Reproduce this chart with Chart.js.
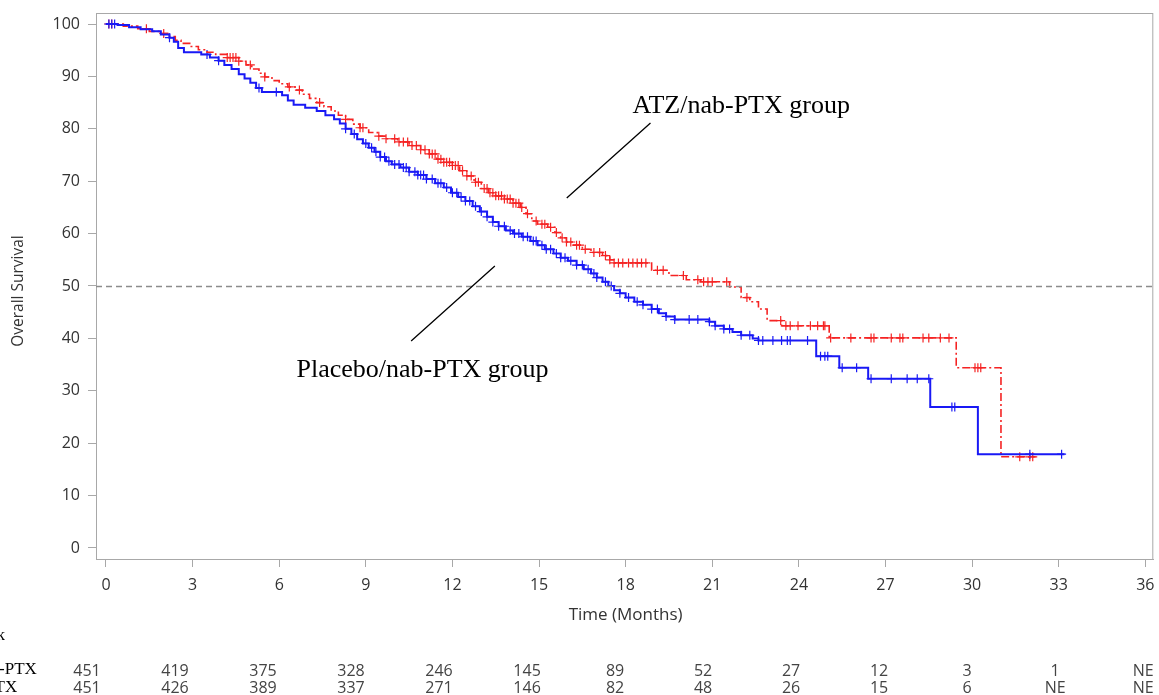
<!DOCTYPE html>
<html>
<head>
<meta charset="utf-8">
<script src="https://cdn.jsdelivr.net/npm/chart.js@4.4.1/dist/chart.umd.min.js"></script>
<style>
  html, body { margin: 0; padding: 0; background: #fff; }
  canvas { display: block; }
</style>
</head>
<body>
<canvas id="graficoKM" width="1159" height="695"></canvas>
<script>
// eixos
const xTicks = [0, 3, 6, 9, 12, 15, 18, 21, 24, 27, 30, 33, 36];
const yTicks = [0, 10, 20, 30, 40, 50, 60, 70, 80, 90, 100];

// Placebo/nab-PTX (azul) - tempos em meses e sobrevida (%)
const placeboTempo = [0, 0.4, 0.8, 1.2, 1.6, 1.9, 2.2, 2.35, 2.5, 2.7, 3.3, 3.6, 3.9, 4.1, 4.35, 4.6, 4.8, 5.0, 5.2, 5.4, 6.1, 6.3, 6.5, 6.9, 7.3, 7.6, 7.9, 8.1, 8.3, 8.5, 8.7, 8.9, 9.1, 9.3, 9.5, 9.7, 9.9, 10.2, 10.5, 10.8, 11.1, 11.4, 11.7, 11.95, 12.2, 12.45, 12.7, 12.95, 13.2, 13.4, 13.6, 13.85, 14.1, 14.4, 14.7, 14.95, 15.2, 15.5, 15.75, 16.0, 16.3, 16.55, 16.8, 17.0, 17.2, 17.4, 17.6, 17.8, 18.0, 18.3, 18.6, 18.9, 19.15, 19.4, 19.7, 20.9, 21.1, 21.4, 21.7, 22.0, 22.4, 22.6, 24.6, 25.4, 26.4, 28.55, 30.2, 33.2];
const placeboSobrevida = [100, 99.8, 99.4, 99.0, 98.6, 98.0, 97.4, 96.6, 95.4, 94.6, 94.2, 93.6, 93.0, 92.2, 91.4, 90.4, 89.6, 88.8, 87.8, 87.0, 86.4, 85.4, 84.6, 84.0, 83.4, 82.6, 81.8, 81.0, 80.0, 79.0, 78.0, 77.2, 76.4, 75.6, 74.6, 73.8, 73.2, 72.6, 71.8, 71.2, 70.4, 69.6, 68.8, 67.8, 67.0, 66.2, 65.2, 64.2, 63.2, 62.2, 61.4, 60.6, 60.0, 59.4, 58.6, 57.8, 57.0, 56.2, 55.4, 54.8, 54.0, 53.2, 52.4, 51.6, 50.8, 50.0, 49.2, 48.6, 47.8, 47.0, 46.4, 45.6, 44.8, 44.2, 43.6, 43.2, 42.4, 41.8, 41.2, 40.6, 40.0, 39.6, 36.6, 34.4, 32.3, 26.9, 17.9, 17.9];
const placeboCensura = [0.1, 0.2, 0.3, 2.2, 3.5, 3.9, 5.3, 5.9, 8.3, 8.6, 9.0, 9.2, 9.35, 9.5, 9.65, 9.8, 10.0, 10.15, 10.3, 10.4, 10.5, 10.7, 10.8, 10.9, 11.0, 11.1, 11.3, 11.5, 11.6, 11.8, 12.0, 12.15, 12.3, 12.45, 12.6, 12.8, 13.0, 13.2, 13.4, 13.6, 13.8, 14.0, 14.15, 14.3, 14.45, 14.6, 14.8, 14.9, 15.1, 15.25, 15.4, 15.6, 15.75, 15.9, 16.1, 16.3, 16.5, 16.7, 16.9, 17.0, 17.3, 17.5, 17.8, 18.1, 18.4, 18.6, 18.9, 19.1, 19.4, 19.7, 20.2, 20.5, 20.9, 21.1, 21.4, 21.6, 22.0, 22.3, 22.6, 22.75, 23.1, 23.4, 23.6, 23.7, 24.3, 24.75, 24.9, 25.0, 25.5, 26.0, 26.5, 27.2, 27.75, 28.1, 28.5, 29.3, 29.4, 32.0, 33.1];

// ATZ/nab-PTX (vermelho)
const atzTempo = [0, 0.6, 1.1, 1.5, 1.9, 2.2, 2.4, 2.6, 2.9, 3.2, 3.5, 3.8, 4.2, 4.6, 4.85, 5.05, 5.3, 5.5, 5.75, 6.0, 6.3, 6.55, 6.8, 7.05, 7.3, 7.55, 7.8, 8.05, 8.3, 8.55, 8.8, 9.1, 9.4, 9.7, 10.1, 10.5, 10.9, 11.2, 11.45, 11.7, 12.0, 12.25, 12.5, 12.75, 13.0, 13.25, 13.5, 13.8, 14.1, 14.35, 14.55, 14.75, 14.95, 15.3, 15.55, 15.75, 15.95, 16.2, 16.5, 16.8, 17.2, 17.45, 17.6, 18.9, 19.5, 20.1, 20.6, 21.6, 22.0, 22.3, 22.6, 22.9, 23.4, 25.05, 29.45, 31.0, 32.2];
const atzSobrevida = [100, 99.6, 99.1, 98.6, 98.2, 97.6, 96.9, 96.3, 95.7, 95.1, 94.6, 94.2, 93.6, 92.9, 92.2, 91.4, 90.6, 89.9, 89.2, 88.6, 88.0, 87.4, 86.6, 85.8, 85.0, 84.2, 83.4, 82.6, 81.8, 80.9, 80.2, 79.3, 78.6, 78.1, 77.5, 76.8, 76.0, 75.2, 74.2, 73.6, 73.0, 72.0, 71.0, 69.8, 68.6, 67.8, 67.2, 66.6, 65.8, 65.0, 63.8, 62.4, 61.8, 61.2, 60.2, 59.2, 58.4, 57.8, 57.0, 56.4, 55.8, 55.0, 54.4, 53.0, 52.0, 51.2, 50.8, 49.8, 47.8, 47.0, 45.6, 43.4, 42.4, 40.1, 34.4, 17.4, 17.4];
const atzCensura = [0.1, 0.2, 1.4, 2.0, 4.2, 4.3, 4.4, 4.5, 4.6, 5.0, 5.5, 6.35, 6.7, 7.4, 8.3, 8.8, 8.9, 9.45, 9.7, 10.0, 10.15, 10.3, 10.45, 10.6, 10.75, 10.9, 11.05, 11.2, 11.3, 11.4, 11.5, 11.6, 11.7, 11.8, 11.9, 12.0, 12.1, 12.2, 12.35, 12.5, 12.65, 12.8, 12.9, 13.1, 13.2, 13.3, 13.4, 13.5, 13.6, 13.7, 13.8, 13.9, 14.0, 14.1, 14.2, 14.3, 14.4, 14.6, 14.9, 15.1, 15.2, 15.4, 15.6, 15.8, 15.95, 16.1, 16.3, 16.4, 16.6, 16.9, 17.1, 17.3, 17.45, 17.6, 17.75, 17.9, 18.1, 18.25, 18.4, 18.55, 18.7, 19.1, 19.3, 20.0, 20.5, 20.7, 20.85, 21.0, 21.5, 22.2, 23.37, 23.55, 23.7, 23.97, 24.4, 24.65, 24.85, 24.9, 25.1, 25.8, 26.5, 26.6, 27.2, 27.5, 27.6, 28.3, 28.5, 28.9, 29.2, 30.1, 30.2, 30.3, 31.65, 32.0, 32.1];

// numero em risco
const riscoPlacebo = ['451', '419', '375', '328', '246', '145', '89', '52', '27', '12', '3', '1', 'NE'];
const riscoAtz = ['451', '426', '389', '337', '271', '146', '82', '48', '26', '15', '6', 'NE', 'NE'];
const linhaReferencia = 50;

function curva(tempos, valores) {
    return tempos.map((t, i) => ({ x: t, y: valores[i] }));
}

function sobrevidaEm(tempos, valores, t) {
    let s = valores[0];
    for (let i = 0; i < tempos.length; i++) {
        if (tempos[i] <= t) s = valores[i];
        else break;
    }
    return s;
}

function censuras(lista, tempos, valores) {
    return lista.map(t => ({ x: t, y: sobrevidaEm(tempos, valores, t) }));
}

// tamanho fixo dos eixos, sem folga extra para os rotulos
function fixaEixo(s, tamanho) {
    if (s.isHorizontal()) s.height = tamanho;
    else s.width = tamanho;
    s.paddingTop = 0;
    s.paddingBottom = 0;
    s.paddingLeft = 0;
    s.paddingRight = 0;
}

const azul = 'rgb(25,25,245)';
const vermelho = 'rgb(245,35,35)';
const fonteEixo = { family: 'Open Sans', size: 16 };

const extras = {
    id: 'extras',
    afterDatasetsDraw(chart) {
        const { ctx, chartArea, scales } = chart;
        const x = scales.x, y = scales.y;
        ctx.save();

        // moldura
        ctx.strokeStyle = '#a8a8a8';
        ctx.lineWidth = 1;
        ctx.strokeRect(chartArea.left + 0.5, chartArea.top + 0.5, chartArea.right - chartArea.left - 1, chartArea.bottom - chartArea.top);

        // linha de 50%
        const yRef = Math.round(y.getPixelForValue(linhaReferencia)) + 0.5;
        ctx.strokeStyle = '#8c8c8c';
        ctx.lineWidth = 1.5;
        ctx.setLineDash([6, 4]);
        ctx.beginPath();
        ctx.moveTo(chartArea.left, yRef);
        ctx.lineTo(chartArea.right, yRef);
        ctx.stroke();
        ctx.setLineDash([]);

        // anotacoes
        ctx.fillStyle = '#000';
        ctx.font = '26px "Liberation Serif"';
        ctx.textAlign = 'left';
        ctx.textBaseline = 'alphabetic';
        ctx.fillText('ATZ/nab-PTX group', x.getPixelForValue(18.24), y.getPixelForValue(83.0));
        ctx.fillText('Placebo/nab-PTX group', x.getPixelForValue(6.6), y.getPixelForValue(32.6));
        ctx.strokeStyle = '#000';
        ctx.lineWidth = 1.3;
        ctx.beginPath();
        ctx.moveTo(x.getPixelForValue(18.86), y.getPixelForValue(81.1));
        ctx.lineTo(x.getPixelForValue(15.96), y.getPixelForValue(66.8));
        ctx.moveTo(x.getPixelForValue(13.47), y.getPixelForValue(53.8));
        ctx.lineTo(x.getPixelForValue(10.57), y.getPixelForValue(39.5));
        ctx.stroke();

        // titulos dos eixos
        ctx.fillStyle = '#333';
        ctx.textAlign = 'center';
        ctx.textBaseline = 'middle';
        ctx.font = '17px "Open Sans"';
        ctx.fillText('Time (Months)', (chartArea.left + chartArea.right) / 2 + 1, 615);
        ctx.font = '15.5px "Open Sans"';
        ctx.save();
        ctx.translate(19, (chartArea.top + chartArea.bottom) / 2 + 5);
        ctx.rotate(-Math.PI / 2);
        ctx.fillText('Overall Survival', 0, 0);
        ctx.restore();

        // tabela de numero em risco
        ctx.font = '16px "Open Sans"';
        ctx.fillStyle = '#444';
        const base = x.getPixelForValue(0);
        xTicks.forEach((t, i) => {
            const px = base - 19 + (x.getPixelForValue(t) - base) * 1.0162;
            ctx.fillText(riscoPlacebo[i], px, 671);
            ctx.fillText(riscoAtz[i], px, 688);
        });

        // rotulos cortados na margem
        ctx.fillStyle = '#000';
        ctx.font = '17px "Liberation Serif"';
        ctx.textBaseline = 'alphabetic';
        ctx.textAlign = 'right';
        ctx.fillText('No. at risk', 5, 640);
        ctx.textAlign = 'left';
        ctx.fillText('Placebo/nab-PTX', -84, 674);
        ctx.fillText('ATZ/nab-PTX', -81, 692);

        ctx.restore();
    }
};

const graficoKM = new Chart(document.getElementById('graficoKM'), {
    type: 'scatter',
    data: {
        datasets: [
            {
                type: 'line',
                label: 'Placebo/nab-PTX',
                data: curva(placeboTempo, placeboSobrevida),
                borderColor: azul,
                borderWidth: 2,
                stepped: 'before',
                pointRadius: 0,
                fill: false
            },
            {
                type: 'line',
                label: 'ATZ/nab-PTX',
                data: curva(atzTempo, atzSobrevida),
                borderColor: vermelho,
                borderWidth: 1.6,
                borderDash: [8, 3, 2, 3],
                stepped: 'before',
                pointRadius: 0,
                fill: false
            },
            {
                label: 'censura placebo',
                data: censuras(placeboCensura, placeboTempo, placeboSobrevida),
                pointStyle: 'cross',
                pointRadius: 4.5,
                borderColor: azul,
                borderWidth: 1.2,
                showLine: false
            },
            {
                label: 'censura atz',
                data: censuras(atzCensura, atzTempo, atzSobrevida),
                pointStyle: 'cross',
                pointRadius: 4.5,
                borderColor: vermelho,
                borderWidth: 1.2,
                showLine: false
            }
        ]
    },
    options: {
        responsive: false,
        animation: false,
        layout: { padding: { top: 13, right: 3, left: 0, bottom: 0 } },
        plugins: { legend: { display: false }, tooltip: { enabled: false } },
        scales: {
            x: {
                type: 'linear',
                min: -0.3455,
                max: 36.276,
                afterBuildTicks: s => { s.ticks = xTicks.map(v => ({ value: v })); },
                afterFit: s => fixaEixo(s, 136),
                grid: { drawOnChartArea: false, tickLength: 8, color: '#a8a8a8' },
                border: { color: '#a8a8a8' },
                ticks: { font: fonteEixo, color: '#333', padding: 9, maxRotation: 0, autoSkip: false }
            },
            y: {
                min: -2.1,
                max: 102.1,
                afterBuildTicks: s => { s.ticks = yTicks.map(v => ({ value: v })); },
                afterFit: s => fixaEixo(s, 96),
                grid: { drawOnChartArea: false, tickLength: 8, color: '#a8a8a8' },
                border: { color: '#a8a8a8' },
                ticks: { font: fonteEixo, color: '#333', padding: 8, autoSkip: false }
            }
        }
    },
    plugins: [extras]
});
</script>
</body>
</html>
